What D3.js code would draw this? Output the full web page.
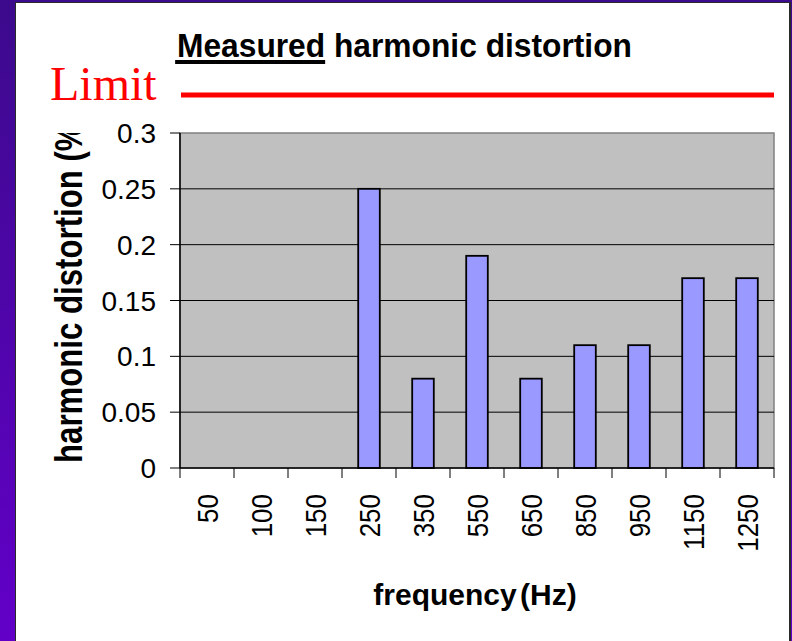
<!DOCTYPE html>
<html>
<head>
<meta charset="utf-8">
<script src="https://cdn.jsdelivr.net/npm/d3@7"></script>
<style>
  body { margin: 0; background: #ffffff; }
  svg { display: block; }
</style>
</head>
<body>
<svg id="chart" width="792" height="641"></svg>
<script>
// chart data
var frequencies = ['50', '100', '150', '250', '350', '550', '650', '850', '950', '1150', '1250'];
var distortion = [0, 0, 0, 0.25, 0.08, 0.19, 0.08, 0.11, 0.11, 0.17, 0.17];
var yTicks = [0, 0.05, 0.1, 0.15, 0.2, 0.25, 0.3];

var svg = d3.select('#chart');

// slide frame
var defs = svg.append('defs');
var grad = defs.append('linearGradient').attr('id', 'frame')
    .attr('x1', 0).attr('y1', 0).attr('x2', 0).attr('y2', 1);
grad.append('stop').attr('offset', '0%').attr('stop-color', '#3c0a8c');
grad.append('stop').attr('offset', '100%').attr('stop-color', '#6200c8');
svg.append('rect').attr('width', 792).attr('height', 641).attr('fill', 'url(#frame)');
svg.append('rect').attr('x', 15).attr('y', 2).attr('width', 776).attr('height', 641).attr('fill', '#2a2a2a');
svg.append('rect').attr('x', 16).attr('y', 3).attr('width', 773).attr('height', 641).attr('fill', '#ffffff');

var plotL = 180, plotR = 774, plotT = 133, plotB = 468;

var x = d3.scaleBand().domain(frequencies).range([plotL, plotR])
    .paddingInner(0.6).paddingOuter(0.3);
var y = d3.scaleLinear().domain([0, 0.3]).range([plotB, plotT]);

// plot area
svg.append('rect').attr('x', plotL).attr('y', plotT)
    .attr('width', plotR - plotL).attr('height', plotB - plotT)
    .attr('fill', '#c0c0c0').attr('stroke', '#808080').attr('stroke-width', 1.5);

svg.append('g').selectAll('line').data(yTicks.slice(1, -1)).enter().append('line')
    .attr('x1', plotL).attr('x2', plotR)
    .attr('y1', function (d) { return y(d); }).attr('y2', function (d) { return y(d); })
    .attr('stroke', '#000').attr('stroke-width', 1);

// bars
svg.append('g').selectAll('rect').data(frequencies).enter().append('rect')
    .attr('x', function (d) { return x(d); })
    .attr('y', function (d, i) { return y(distortion[i]); })
    .attr('width', x.bandwidth())
    .attr('height', function (d, i) { return plotB - y(distortion[i]); })
    .attr('fill', '#9999ff').attr('stroke', '#000').attr('stroke-width', 1.8)
    .style('display', function (d, i) { return distortion[i] > 0 ? null : 'none'; });

// y axis
var yAxis = svg.append('g');
yAxis.append('line').attr('x1', plotL).attr('x2', plotL).attr('y1', plotT).attr('y2', plotB)
    .attr('stroke', '#000').attr('stroke-width', 1.5);
yAxis.selectAll('line.tick').data(yTicks).enter().append('line').attr('class', 'tick')
    .attr('x1', plotL - 10).attr('x2', plotL)
    .attr('y1', function (d) { return y(d); }).attr('y2', function (d) { return y(d); })
    .attr('stroke', '#000').attr('stroke-width', 1);
yAxis.selectAll('text').data(yTicks).enter().append('text')
    .attr('x', 156).attr('y', function (d) { return y(d); })
    .attr('dy', '0.36em').attr('text-anchor', 'end')
    .style('font-family', 'Liberation Sans, Arial, sans-serif').style('font-size', '28px')
    .text(function (d) { return d; });

// x axis
var step = x.step();
var bounds = d3.range(frequencies.length + 1);
var xAxis = svg.append('g');
xAxis.append('line').attr('x1', plotL).attr('x2', plotR).attr('y1', plotB).attr('y2', plotB)
    .attr('stroke', '#000').attr('stroke-width', 1.5);
xAxis.selectAll('line.tick').data(bounds).enter().append('line').attr('class', 'tick')
    .attr('x1', function (i) { return plotL + i * step; }).attr('x2', function (i) { return plotL + i * step; })
    .attr('y1', plotB).attr('y2', plotB + 10)
    .attr('stroke', '#000').attr('stroke-width', 1);
xAxis.selectAll('text').data(frequencies).enter().append('text')
    .attr('transform', function (d) {
        return 'translate(' + (x(d) + x.bandwidth() / 2 + 1) + ',494) rotate(-90) scale(1,1.12)';
    })
    .attr('text-anchor', 'end').attr('dy', '0.36em')
    .style('font-family', 'Liberation Sans, Arial, sans-serif').style('font-size', '26px')
    .text(function (d) { return d; });

// axis titles
svg.append('text').attr('x', 475).attr('y', 605).attr('text-anchor', 'middle')
    .style('font-family', 'Liberation Sans, Arial, sans-serif').style('font-size', '30px')
    .style('font-weight', 'bold').style('word-spacing', '-5px')
    .text('frequency (Hz)');

defs.append('clipPath').attr('id', 'ylab').append('rect')
    .attr('x', 0).attr('y', plotT).attr('width', 120).attr('height', 400);
svg.append('g').attr('clip-path', 'url(#ylab)')
    .append('text').attr('transform', 'translate(82,463) rotate(-90) scale(1.04,1.3)')
    .style('font-family', 'Liberation Sans, Arial, sans-serif').style('font-size', '30px')
    .style('font-weight', 'bold')
    .text('harmonic distortion (%)');

// title with underlined first word
var title = svg.append('g').attr('transform', 'translate(177,57) scale(0.934,1)');
var t = title.append('text')
    .style('font-family', 'Liberation Sans, Arial, sans-serif').style('font-size', '34px')
    .style('font-weight', 'bold');
var w1 = t.append('tspan').text('Measured');
t.append('tspan').text(' harmonic distortion');
var uw = w1.node().getComputedTextLength();
title.append('rect').attr('x', -2).attr('y', 3).attr('width', uw + 2).attr('height', 4).attr('fill', '#000');

// limit line
svg.append('text').attr('x', 50).attr('y', 100)
    .style('font-family', 'Liberation Serif, Times New Roman, serif').style('font-size', '48px')
    .attr('fill', '#ff0000').text('Limit');
svg.append('line').attr('x1', 181).attr('x2', 774).attr('y1', 95).attr('y2', 95)
    .attr('stroke', '#ff0000').attr('stroke-width', 5);
</script>
</body>
</html>
